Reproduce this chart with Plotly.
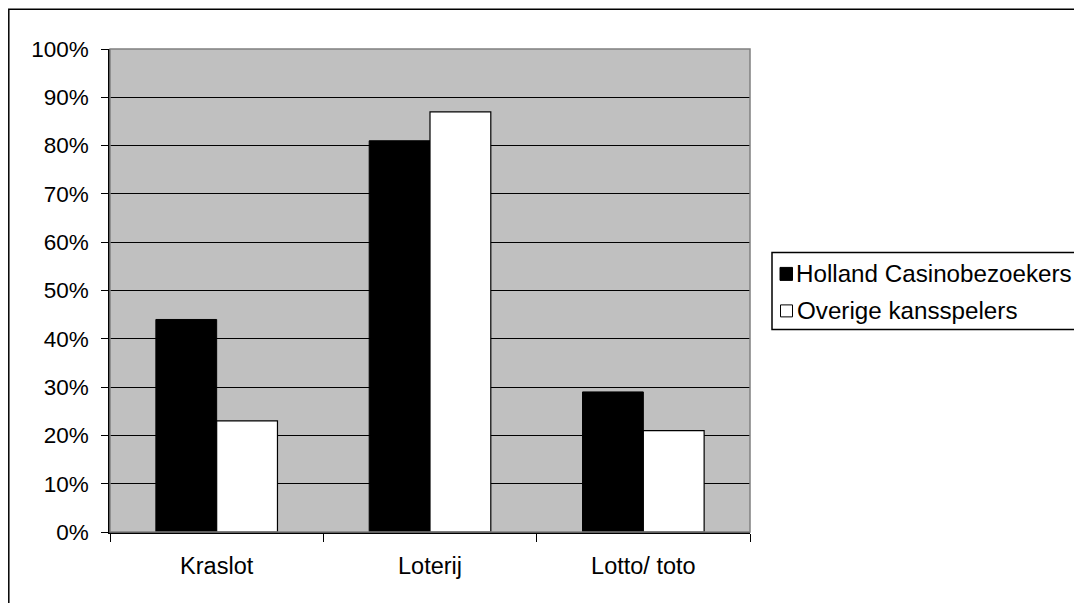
import plotly.graph_objects as go

categories = ["Kraslot", "Loterij", "Lotto/ toto"]
series_names = ["Holland Casinobezoekers", "Overige kansspelers"]
holland = [44, 81, 29]
overige = [23, 87, 21]
y_ticks = [0, 10, 20, 30, 40, 50, 60, 70, 80, 90, 100]
y_tick_labels = [f"{v}%" for v in y_ticks]

# page body adds an 8px offset; coordinates below are reference pixels
OFF = 8
W, H = 1082 - OFF, 603 - OFF
L, R, T, B = 110 - OFF, 750 - OFF, 48.5 - OFF, 531.7 - OFF

FAM = "Liberation Sans, Arial, sans-serif"
TICK_FONT = dict(family=FAM, size=22.5, color="black")
CAT_FONT = dict(family=FAM, size=23.5, color="black")
LEG_FONT = dict(family=FAM, size=24.2, color="black")

fig = go.Figure()
fig.add_trace(go.Bar(x=categories, y=holland, name=series_names[0],
                     marker=dict(color="black", line=dict(color="black", width=1))))
fig.add_trace(go.Bar(x=categories, y=overige, name=series_names[1],
                     marker=dict(color="white", line=dict(color="black", width=1.2))))

def px(xp):
    return (xp - OFF - L) / (R - L)

def py(yp):
    return (B - (yp - OFF)) / (B - T)

shapes = [
    dict(type="rect", xref="paper", yref="paper", x0=0, x1=1, y0=0, y1=1,
         line=dict(color="#808080", width=1.5), layer="above"),
    dict(type="rect", xref="paper", yref="paper", x0=px(8.8), x1=px(1100),
         y0=py(620), y1=py(8.8), line=dict(color="black", width=1.5)),
    dict(type="rect", xref="paper", yref="paper", x0=px(772), x1=px(1100),
         y0=py(329), y1=py(252), line=dict(color="black", width=1.5),
         fillcolor="white"),
    dict(type="rect", xref="paper", yref="paper", x0=px(780), x1=px(792.5),
         y0=py(280), y1=py(267), line=dict(color="black", width=1), fillcolor="black"),
    dict(type="rect", xref="paper", yref="paper", x0=px(780.5), x1=px(792.5),
         y0=py(316.5), y1=py(304.5), line=dict(color="black", width=1), fillcolor="white"),
]

annotations = [
    dict(xref="paper", yref="paper", x=px(794), y=py(273.5), text=series_names[0],
         showarrow=False, xanchor="left", yanchor="middle", font=LEG_FONT),
    dict(xref="paper", yref="paper", x=px(795), y=py(310.5), text=series_names[1],
         showarrow=False, xanchor="left", yanchor="middle", font=LEG_FONT),
]

fig.update_layout(
    width=W, height=H,
    margin=dict(l=L, r=W - R, t=T, b=H - B, pad=0),
    paper_bgcolor="white",
    plot_bgcolor="#C0C0C0",
    barmode="group",
    bargap=0.43,
    bargroupgap=0,
    showlegend=False,
    font=TICK_FONT,
    shapes=shapes,
    annotations=annotations,
)

fig.update_xaxes(
    type="category",
    tickson="boundaries",
    ticks="outside", ticklen=8, tickwidth=1.2, tickcolor="black",
    showline=True, linecolor="black", linewidth=1.5,
    showgrid=False,
    tickfont=CAT_FONT,
    ticklabelstandoff=12,
)
fig.update_yaxes(
    range=[0, 100],
    tickvals=y_ticks, ticktext=y_tick_labels,
    ticks="outside", ticklen=7, tickwidth=1.2, tickcolor="black",
    showline=True, linecolor="black", linewidth=1.5,
    showgrid=True, gridcolor="black", gridwidth=1.2,
    zeroline=False,
    tickfont=TICK_FONT,
    ticklabelstandoff=8,
)

fig.write_html("out.html")
